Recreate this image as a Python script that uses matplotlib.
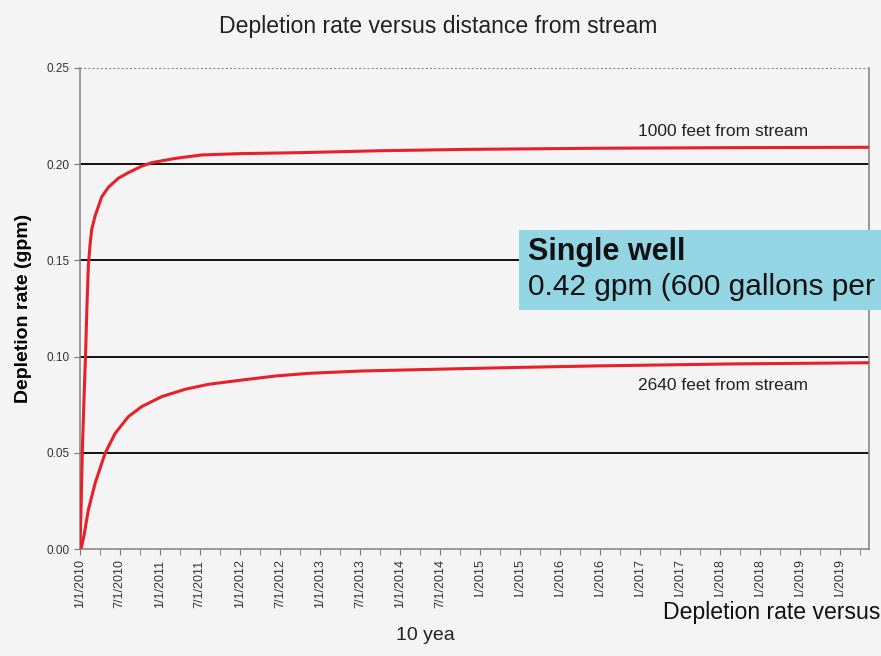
import numpy as np
import pandas as pd
import matplotlib
matplotlib.use("Agg")
import matplotlib.pyplot as plt
import matplotlib.dates as mdates
from matplotlib.patches import Rectangle

plt.rcParams['font.family'] = ['Liberation Sans', 'DejaVu Sans']

# months since 1/1/2010 and depletion rate (gpm)
months_1000 = [0, 0.15, 0.35, 0.6, 0.85, 1.05, 1.25, 1.5, 1.75, 2.25, 3.25, 4.25, 5.75, 7.25, 9.25,
               10.75, 14.25, 18.25, 24, 33, 45, 58, 78, 98, 118.3]
rate_1000 = [0.0, 0.02, 0.051, 0.078, 0.103, 0.127, 0.147, 0.158, 0.166, 0.173, 0.183, 0.188, 0.1927,
             0.1956, 0.199, 0.2008, 0.203, 0.2048, 0.2055, 0.206, 0.207, 0.2077, 0.2083, 0.2086, 0.2088]

months_2640 = [0, 0.15, 0.6, 1.25, 2.25, 3.75, 5.25, 7.25, 9.25, 12.25, 15.75, 19.25, 24.25, 29.25,
               34.25, 42, 55.5, 66, 78, 98, 118.3]
rate_2640 = [0.0, 0.0, 0.007, 0.0203, 0.034, 0.0497, 0.060, 0.0688, 0.074, 0.0792, 0.083, 0.0856,
             0.0878, 0.0899, 0.0913, 0.0925, 0.0936, 0.0944, 0.0952, 0.0962, 0.0968]

yticks = [0.00, 0.05, 0.10, 0.15, 0.20, 0.25]
label_years = list(range(2010, 2020))

start = pd.Timestamp("2010-01-01")


def to_dates(months):
    return start + pd.to_timedelta(np.array(months) * 30.4375, unit="D")


W, H = 881, 656
bg = "#f4f4f4"
fig = plt.figure(figsize=(8.81, 6.56), dpi=100, facecolor=bg)
ax = fig.add_axes([80 / W, 107 / H, 789 / W, 481 / H], facecolor=bg)

ax.plot(to_dates(months_1000), rate_1000, color="#e8202a", lw=2.2, zorder=3)
ax.plot(to_dates(months_2640), rate_2640, color="#e8202a", lw=2.2, zorder=3)

for v in yticks[1:-1]:
    ax.axhline(v, color="#111111", lw=1.4, zorder=2)
ax.axhline(0.25, color="#888888", lw=1.5, ls=(0, (1, 1)), zorder=2)

ax.set_ylim(0, 0.25)
ax.set_xlim(start, pd.Timestamp("2019-11-10"))
ax.set_yticks(yticks)
ax.set_yticklabels([f"{v:.2f}" for v in yticks], fontsize=8.5, color="#333333",
                   family=['Liberation Sans Narrow', 'Liberation Sans'])

major = []
for y in label_years:
    major.append(pd.Timestamp(f"{y}-01-01"))
    major.append(pd.Timestamp(f"{y}-07-01"))
ax.set_xticks(major)
ax.set_xticklabels([f"{d.month}/1/{d.year}" for d in major], rotation=90, fontsize=9, color="#333333",
                   family=['Liberation Sans Narrow', 'Liberation Sans'])
ax.xaxis.set_minor_locator(mdates.MonthLocator(bymonth=[4, 10]))
ax.tick_params(axis="x", which="both", length=4, color="#777777")
ax.tick_params(axis="y", length=4, color="#777777")

for s in ["left", "bottom", "right"]:
    ax.spines[s].set_color("#888888")
    ax.spines[s].set_linewidth(1.2)
ax.spines["top"].set_visible(False)

ax.set_ylabel("Depletion rate (gpm)", fontsize=14, fontweight="bold")
ax.yaxis.set_label_coords(-48 / 789, 0.5)

fig.text(438 / W, 1 - 26 / H, "Depletion rate versus distance from stream", fontsize=16.6,
         ha="center", va="center", color="#222222")

fig.text(723 / W, 1 - 131 / H, "1000 feet from stream", fontsize=12.5, ha="center",
         va="center", color="#222222")
fig.text(723 / W, 1 - 385 / H, "2640 feet from stream", fontsize=12.5, ha="center",
         va="center", color="#222222")

fig.text(425 / W, 1 - 636 / H, "10 yea", fontsize=14, ha="center", va="center", color="#222222")

# overlay pieces
fig.patches.append(Rectangle((458 / W, 0), 1, 59 / H, transform=fig.transFigure,
                             facecolor=bg, edgecolor="none", zorder=2))
fig.text(663 / W, 1 - 613 / H, "Depletion rate versus", fontsize=16.6, ha="left", va="center",
         color="#111111", family=['Liberation Sans Narrow', 'Liberation Sans'], zorder=4)

fig.patches.append(Rectangle((519 / W, 1 - 310 / H), 1, 80 / H, transform=fig.transFigure,
                             facecolor="#93d5e3", edgecolor="none", zorder=2))
fig.text(528 / W, 1 - 252 / H, "Single well", fontsize=22, fontweight="bold", ha="left",
         va="center", color="#111111", zorder=4)
fig.text(528 / W, 1 - 287 / H, "0.42 gpm (600 gallons per", fontsize=21.5, ha="left",
         va="center", color="#111111", zorder=4)

fig.savefig("out.png", dpi=100, facecolor=bg)
